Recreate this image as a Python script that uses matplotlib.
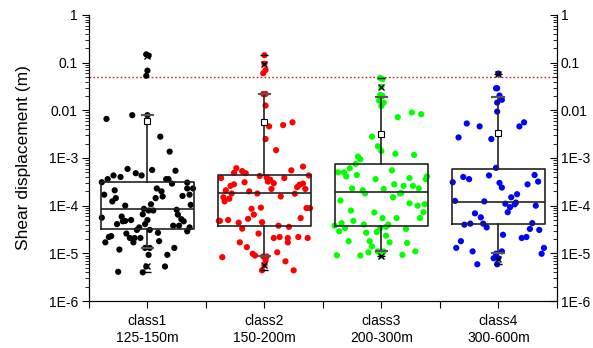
import numpy as np
import matplotlib
matplotlib.use("Agg")
import matplotlib.pyplot as plt
from matplotlib.ticker import FixedLocator, FixedFormatter, LogLocator, NullFormatter

plt.rcParams["font.family"] = ["Liberation Sans", "DejaVu Sans"]

# categories
classes = ["class1\n125-150m", "class2\n150-200m", "class3\n200-300m", "class4\n300-600m"]
colors = ["#000000", "#ff0000", "#00ff00", "#0000ff"]

# shear displacement (m) of every point, with its horizontal jitter inside the class
c1_disp = [0.149, 0.14, 0.068, 0.053, 0.0066, 0.0079, 0.0079, 0.0028, 0.00136, 5.9e-4,
           4.8e-4, 4.3e-4, 5.6e-4, 5.4e-4, 4.3e-4, 4.0e-4, 3.6e-4, 3.6e-4, 3.6e-4, 3.1e-4,
           2.9e-4, 3.05e-4, 2.3e-4, 1.7e-4, 2.1e-4, 2.3e-4, 2.0e-4, 1.56e-4, 1.6e-4, 2.3e-4,
           1.7e-4, 1.44e-4, 1.23e-4, 1.44e-4, 1.07e-4, 1.0e-4, 1.04e-4, 8.6e-5, 7.9e-5, 7.9e-5,
           8.2e-5, 6.5e-5, 6.6e-5, 5.6e-5, 5.9e-5, 4.8e-5, 4.7e-5, 5.0e-5, 5.0e-5, 5.2e-5,
           4.7e-5, 4.1e-5, 4.1e-5, 3.8e-5, 3.8e-5, 3.5e-5, 2.9e-5, 3.5e-5, 3.1e-5, 3.1e-5,
           2.3e-5, 2.2e-5, 2.6e-5, 2.1e-5, 2.1e-5, 2.1e-5, 2.7e-5, 1.7e-5, 1.7e-5, 1.8e-5,
           1.3e-5, 1.3e-5, 1.2e-5, 1.3e-5, 9.3e-6, 9.3e-6, 5.3e-6, 5.3e-6, 4.1e-6, 4.0e-6]
c1_jit = [-0.01, 0.01, 0.0, -0.01, -0.35, -0.13, 0.0, 0.11, 0.19, -0.17,
          -0.10, -0.05, 0.04, 0.24, -0.29, -0.23, -0.34, 0.16, 0.18, -0.39,
          0.21, 0.34, 0.39, -0.37, -0.28, 0.08, 0.12, 0.13, 0.30, 0.34,
          0.36, -0.27, -0.30, 0.07, 0.03, -0.19, 0.37, -0.03, 0.01, 0.05,
          0.25, 0.26, -0.04, -0.39, -0.22, -0.19, -0.21, -0.14, 0.0, 0.29,
          0.31, -0.26, -0.02, 0.22, 0.27, 0.36, 0.34, -0.07, -0.09, 0.02,
          -0.31, -0.33, -0.18, -0.15, -0.11, -0.06, 0.09, -0.36, -0.12, 0.10,
          -0.02, 0.02, -0.24, 0.23, 0.01, 0.17, -0.01, 0.15, -0.25, -0.04]

c2_disp = [0.143, 0.095, 0.070, 0.060, 0.022, 0.022, 0.0126, 0.0046, 0.0049, 0.0056,
           0.0025, 0.00146, 6.1e-4, 4.9e-4, 5.3e-4, 4.8e-4, 4.2e-4, 5.5e-4, 6.6e-4, 4.3e-4,
           3.8e-4, 3.9e-4, 3.5e-4, 3.8e-4, 3.2e-4, 2.96e-4, 3.1e-4, 2.6e-4, 2.8e-4, 2.1e-4,
           1.8e-4, 2.0e-4, 1.8e-4, 2.24e-4, 2.45e-4, 2.75e-4, 2.9e-4, 2.24e-4, 1.78e-4, 1.56e-4,
           1.5e-4, 1.23e-4, 1.4e-4, 8.6e-5, 9.1e-5, 6.5e-5, 8.9e-5, 8.9e-5, 5.3e-5, 5.5e-5,
           4.8e-5, 4.8e-5, 5.0e-5, 4.4e-5, 4.5e-5, 3.8e-5, 3.6e-5, 3.3e-5, 2.6e-5, 2.1e-5,
           2.2e-5, 2.1e-5, 1.7e-5, 2.2e-5, 2.1e-5, 1.7e-5, 1.35e-5, 1.05e-5, 9.8e-6, 9.0e-6,
           8.3e-6, 8.6e-6, 8.6e-6, 7.1e-6, 6.8e-6, 5.7e-6, 4.4e-6, 4.4e-6]
c2_jit = [0.0, 0.0, 0.01, -0.01, -0.01, 0.01, 0.01, 0.04, 0.16, 0.24,
          0.01, 0.10, -0.24, -0.26, -0.19, -0.16, -0.04, 0.23, 0.33, 0.38,
          -0.37, 0.02, 0.05, 0.17, 0.03, 0.08, -0.17, -0.29, -0.26, -0.33,
          -0.28, -0.13, -0.06, 0.06, 0.28, 0.30, 0.33, 0.35, 0.26, 0.14,
          -0.35, -0.34, -0.30, -0.11, -0.03, -0.09, 0.36, 0.39, -0.14, 0.31,
          -0.39, -0.38, -0.31, -0.22, -0.02, 0.12, 0.21, -0.19, -0.05, 0.08,
          0.13, 0.20, 0.20, 0.29, 0.37, -0.21, -0.15, 0.11, -0.10, -0.08,
          -0.36, -0.01, 0.02, 0.01, 0.18, 0.0, -0.02, 0.25]

c3_disp = [0.045, 0.048, 0.031, 0.021, 0.020, 0.016, 0.0145, 0.0123, 0.0090, 0.0083,
           0.0072, 0.0028, 0.00176, 0.0014, 0.00123, 0.00116, 0.00107, 9.4e-4, 7.5e-4, 6.1e-4,
           5.0e-4, 5.0e-4, 4.1e-4, 4.4e-4, 5.5e-4, 3.6e-4, 3.8e-4, 4.1e-4, 3.6e-4, 2.8e-4,
           2.6e-4, 2.6e-4, 2.3e-4, 2.24e-4, 2.3e-4, 2.1e-4, 1.8e-4, 1.8e-4, 1.85e-4, 1.5e-4,
           1.28e-4, 1.12e-4, 1.0e-4, 1.07e-4, 7.9e-5, 7.2e-5, 7.3e-5, 5.5e-5, 5.5e-5, 5.5e-5,
           4.8e-5, 4.3e-5, 4.0e-5, 4.0e-5, 3.6e-5, 3.8e-5, 3.4e-5, 3.4e-5, 3.25e-5, 2.9e-5,
           2.7e-5, 2.8e-5, 2.35e-5, 1.8e-5, 1.8e-5, 1.7e-5, 1.65e-5, 1.4e-5, 1.1e-5, 1.05e-5,
           1.1e-5, 1.1e-5, 9.1e-6, 9.0e-6, 9.3e-6, 9.0e-6]
c3_jit = [0.01, -0.01, 0.0, -0.01, 0.01, -0.02, 0.02, 0.0, 0.26, 0.34,
          0.14, -0.08, -0.03, 0.0, 0.12, 0.28, -0.20, -0.18, -0.22, -0.27,
          -0.37, -0.32, -0.30, -0.21, 0.09, -0.05, 0.24, 0.39, 0.38, 0.11,
          0.19, 0.27, 0.32, 0.02, -0.25, -0.16, -0.14, 0.16, 0.17, 0.10,
          -0.35, 0.24, 0.31, 0.37, -0.26, -0.06, 0.36, 0.01, 0.13, 0.33,
          -0.24, -0.34, -0.15, 0.06, 0.04, -0.40, -0.31, -0.01, 0.21, -0.36,
          -0.13, -0.04, 0.04, -0.28, -0.10, 0.07, 0.22, -0.08, 0.29, -0.11,
          -0.03, 0.02, -0.38, -0.18, 0.18, 0.0]

c4_disp = [0.059, 0.029, 0.029, 0.0204, 0.0145, 0.0166, 0.0094, 0.0053, 0.0046, 0.0056,
           0.0046, 0.0027, 0.0025, 6.2e-4, 4.0e-4, 3.6e-4, 4.3e-4, 4.4e-4, 3.1e-4, 3.0e-4,
           2.4e-4, 2.8e-4, 3.2e-4, 1.5e-4, 1.74e-4, 1.26e-4, 1.23e-4, 1.1e-4, 9.3e-5, 1.07e-4,
           1.16e-4, 1.0e-4, 7.3e-5, 6.9e-5, 5.7e-5, 4.0e-5, 4.2e-5, 4.2e-5, 3.5e-5, 4.3e-5,
           3.25e-5, 3.1e-5, 2.45e-5, 2.1e-5, 2.2e-5, 1.8e-5, 1.3e-5, 1.3e-5, 1.1e-5, 1.1e-5,
           9.8e-6, 9.8e-6, 7.9e-6, 7.9e-6, 5.9e-6, 5.9e-6]
c4_jit = [0.0, -0.02, -0.01, 0.01, -0.01, 0.03, -0.01, -0.27, -0.16, 0.22,
          0.18, -0.34, -0.06, -0.02, -0.30, -0.25, -0.08, 0.31, -0.39, 0.01,
          0.03, 0.25, 0.34, 0.11, 0.16, -0.37, -0.12, 0.06, 0.10, 0.14,
          0.15, 0.32, 0.08, -0.20, -0.15, -0.29, -0.24, -0.13, -0.10, 0.29,
          0.27, 0.35, 0.04, 0.20, 0.24, -0.32, -0.36, 0.39, -0.22, 0.03,
          0.37, -0.02, -0.04, 0.0, -0.01, -0.18]

# box summaries as drawn (25/50/75 %, whisker ends, mean, 1 %/99 %, min/max)
box_q1 = [3.2e-5, 3.8e-5, 3.8e-5, 4.1e-5]
box_med = [8.6e-5, 1.8e-4, 1.9e-4, 1.22e-4]
box_q3 = [3.1e-4, 4.3e-4, 7.6e-4, 5.9e-4]
whisk_lo = [1.3e-5, 8.6e-6, 1.1e-5, 1.0e-5]
whisk_hi = [0.0079, 0.0217, 0.019, 0.019]
box_mean = [0.006, 0.0057, 0.0032, 0.0034]
pct1 = [5.3e-6, 5.7e-6, 9.0e-6, 7.6e-6]
pct99 = [0.14, 0.095, 0.031, 0.059]
val_min = [4.0e-6, 4.4e-6, 9.0e-6, 5.9e-6]
val_max = [0.15, 0.143, 0.048, 0.059]

threshold = 0.05
ytick_vals = [1e-6, 1e-5, 1e-4, 1e-3, 0.01, 0.1, 1]
ytick_text = ["1E-6", "1E-5", "1E-4", "1E-3", "0.01", "0.1", "1"]

disp = [c1_disp, c2_disp, c3_disp, c4_disp]
jit = [c1_jit, c2_jit, c3_jit, c4_jit]
pos = np.arange(1, len(classes) + 1)

fig = plt.figure(figsize=(5.93, 3.48), dpi=100)
ax = fig.add_axes([0.150, 0.135, 0.789, 0.822])

for i in range(len(classes)):
    ax.scatter(pos[i] + np.array(jit[i]), disp[i], s=20, color=colors[i],
               edgecolors="none", zorder=2)

stats = []
for i in range(len(classes)):
    stats.append(dict(q1=box_q1[i], med=box_med[i], q3=box_q3[i],
                      whislo=whisk_lo[i], whishi=whisk_hi[i],
                      mean=box_mean[i], fliers=[]))
ax.bxp(stats, positions=pos, widths=0.8, capwidths=0.1, showmeans=True,
       showfliers=False, patch_artist=False, manage_ticks=False,
       boxprops=dict(color="#222222", linewidth=1.2),
       medianprops=dict(color="#222222", linewidth=1.2),
       whiskerprops=dict(color="#222222", linewidth=1.2),
       capprops=dict(color="#555555", linewidth=1.5),
       meanprops=dict(marker="s", markersize=4.5, markerfacecolor="white",
                      markeredgecolor="black", markeredgewidth=0.8),
       zorder=3)

ax.plot(pos, pct1, "x", color="black", markersize=4, mew=1, zorder=4)
ax.plot(pos, pct99, "x", color="black", markersize=4, mew=1, zorder=4)
ax.plot(pos, val_min, "_", color="black", markersize=6, mew=1, zorder=4)
ax.plot(pos, val_max, "_", color="black", markersize=6, mew=1, zorder=4)

ax.axhline(threshold, color="#d42020", linestyle=(0, (1.2, 1.6)), linewidth=1, zorder=1)


def style_log_axis(a):
    a.set_yscale("log")
    a.set_ylim(1e-6, 1)
    a.yaxis.set_major_locator(FixedLocator(ytick_vals))
    a.yaxis.set_major_formatter(FixedFormatter(ytick_text))
    a.yaxis.set_minor_locator(LogLocator(base=10, subs=np.arange(2, 10), numticks=20))
    a.yaxis.set_minor_formatter(NullFormatter())


style_log_axis(ax)
ax.set_xlim(0.5, 4.5)
ax.set_xticks(pos)
ax.set_xticklabels(classes, fontsize=10, linespacing=1.3)
ax.set_xticks(np.arange(0.5, 4.6, 1.0), minor=True)
ax.tick_params(axis="x", which="both", direction="out", length=5, width=0.8, pad=4)
ax.tick_params(axis="y", which="major", direction="out", length=5, width=0.8,
               labelsize=10, pad=3)
ax.tick_params(axis="y", which="minor", direction="out", length=3, width=0.6)
ax.set_ylabel("Shear displacement (m)", fontsize=12.5, labelpad=13)

# right axis mirrors the left one, ticks pointing inwards
ax2 = ax.twinx()
style_log_axis(ax2)
ax2.tick_params(axis="y", which="major", direction="in", length=5, width=0.8,
                labelsize=10, pad=3)
ax2.tick_params(axis="y", which="minor", direction="in", length=3, width=0.6)

for a in (ax, ax2):
    a.spines["top"].set_visible(False)
    for s in ["left", "right", "bottom"]:
        a.spines[s].set_linewidth(0.8)

fig.savefig("out.png", dpi=100)
